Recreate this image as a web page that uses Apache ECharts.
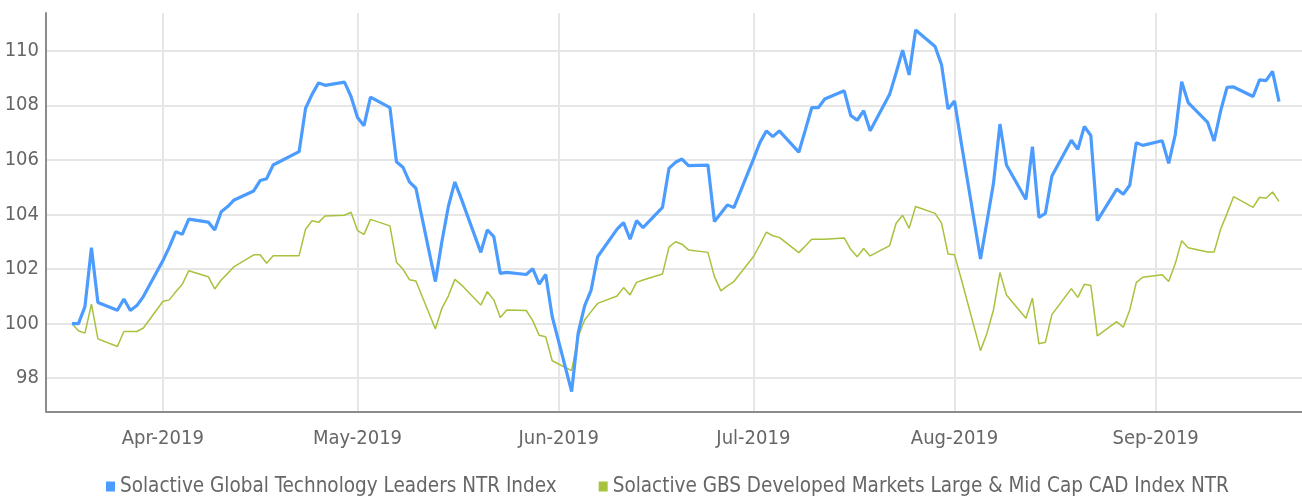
<!DOCTYPE html>
<html>
<head>
<meta charset="utf-8">
<title>Solactive index comparison 2019</title>
<script src="https://cdn.jsdelivr.net/npm/echarts@6/dist/echarts.min.js"></script>
<style>
  html, body { margin: 0; padding: 0; background: #ffffff; }
  #chart { width: 1302px; height: 497px; }
</style>
</head>
<body>
<div id="chart"></div>
<script>
// Trading days, 18 Mar 2019 – 20 Sep 2019
const dates = [
  '2019-03-18','2019-03-19','2019-03-20','2019-03-21','2019-03-22','2019-03-25','2019-03-26','2019-03-27','2019-03-28','2019-03-29',
  '2019-04-01','2019-04-02','2019-04-03','2019-04-04','2019-04-05','2019-04-08','2019-04-09','2019-04-10','2019-04-11','2019-04-12',
  '2019-04-15','2019-04-16','2019-04-17','2019-04-18','2019-04-22','2019-04-23','2019-04-24','2019-04-25','2019-04-26','2019-04-29','2019-04-30',
  '2019-05-01','2019-05-02','2019-05-03','2019-05-06','2019-05-07','2019-05-08','2019-05-09','2019-05-10','2019-05-13','2019-05-14',
  '2019-05-15','2019-05-16','2019-05-17','2019-05-20','2019-05-21','2019-05-22','2019-05-23','2019-05-24','2019-05-27','2019-05-28',
  '2019-05-29','2019-05-30','2019-05-31',
  '2019-06-03','2019-06-04','2019-06-05','2019-06-06','2019-06-07','2019-06-10','2019-06-11','2019-06-12','2019-06-13','2019-06-14',
  '2019-06-17','2019-06-18','2019-06-19','2019-06-20','2019-06-21','2019-06-24','2019-06-25','2019-06-26','2019-06-27','2019-06-28',
  '2019-07-01','2019-07-02','2019-07-03','2019-07-04','2019-07-05','2019-07-08','2019-07-09','2019-07-10','2019-07-11','2019-07-12',
  '2019-07-15','2019-07-16','2019-07-17','2019-07-18','2019-07-19','2019-07-22','2019-07-23','2019-07-24','2019-07-25','2019-07-26',
  '2019-07-29','2019-07-30','2019-07-31',
  '2019-08-01','2019-08-02','2019-08-05','2019-08-06','2019-08-07','2019-08-08','2019-08-09','2019-08-12','2019-08-13','2019-08-14',
  '2019-08-15','2019-08-16','2019-08-19','2019-08-20','2019-08-21','2019-08-22','2019-08-23','2019-08-26','2019-08-27','2019-08-28',
  '2019-08-29','2019-08-30',
  '2019-09-02','2019-09-03','2019-09-04','2019-09-05','2019-09-06','2019-09-09','2019-09-10','2019-09-11','2019-09-12','2019-09-13',
  '2019-09-16','2019-09-17','2019-09-18','2019-09-19','2019-09-20'
];

// Solactive Global Technology Leaders NTR Index (rebased to 100)
const techLeaders = [
  100.00, 100.00, 100.62, 102.78, 100.77, 100.49, 100.90, 100.48, 100.66, 100.99,
  102.30, 102.80, 103.37, 103.27, 103.83, 103.72, 103.43, 104.10, 104.29, 104.53,
  104.86, 105.24, 105.31, 105.81, 106.30, 107.89, 108.40, 108.82, 108.73, 108.85, 108.32,
  107.55, 107.25, 108.30, 107.91, 105.93, 105.73, 105.19, 104.96, 101.54, 103.00,
  104.29, 105.19, 104.57, 102.61, 103.43, 103.19, 101.84, 101.88, 101.80, 102.01,
  101.45, 101.80, 100.26,
  97.51, 99.65, 100.65, 101.23, 102.45, 103.46, 103.70, 103.09, 103.77, 103.52,
  104.26, 105.69, 105.91, 106.03, 105.79, 105.81, 103.74, 104.04, 104.35, 104.25,
  106.02, 106.63, 107.06, 106.85, 107.06, 106.28, 107.09, 107.91, 107.91, 108.23,
  108.53, 107.63, 107.45, 107.80, 107.07, 108.40, 109.19, 110.02, 109.11, 110.76,
  110.15, 109.48, 107.86,
  108.16, 106.67, 102.37, 103.74, 105.14, 107.31, 105.81, 104.55, 106.48, 103.89,
  104.04, 105.41, 106.72, 106.39, 107.22, 106.89, 103.77, 104.93, 104.74, 105.07,
  106.63, 106.53,
  106.70, 105.87, 106.91, 108.86, 108.10, 107.37, 106.69, 107.79, 108.66, 108.67,
  108.32, 108.93, 108.90, 109.24, 108.13
];

// Solactive GBS Developed Markets Large & Mid Cap CAD Index NTR (rebased to 100)
const developedMarkets = [
  100.00, 99.74, 99.65, 100.71, 99.44, 99.16, 99.71, 99.71, 99.71, 99.84,
  100.81, 100.87, 101.17, 101.44, 101.94, 101.72, 101.27, 101.60, 101.84, 102.09,
  102.52, 102.52, 102.21, 102.49, 102.49, 103.46, 103.77, 103.71, 103.94, 103.97, 104.08,
  103.41, 103.27, 103.82, 103.58, 102.25, 102.00, 101.61, 101.56, 99.80, 100.56,
  101.01, 101.62, 101.42, 100.68, 101.17, 100.87, 100.22, 100.50, 100.48, 100.11,
  99.57, 99.52, 98.64,
  98.28, 99.52, 100.13, 100.44, 100.74, 101.01, 101.32, 101.05, 101.51, 101.60,
  101.82, 102.80, 103.00, 102.91, 102.70, 102.61, 101.72, 101.20, 101.38, 101.54,
  102.45, 102.88, 103.35, 103.22, 103.16, 102.60, 102.84, 103.09, 103.09, 103.09,
  103.14, 102.72, 102.45, 102.75, 102.48, 102.86, 103.68, 103.97, 103.49, 104.29,
  104.04, 103.68, 102.55,
  102.52, 101.66, 99.01, 99.65, 100.50, 101.87, 101.05, 100.20, 100.93, 99.26,
  99.32, 100.33, 101.28, 100.96, 101.44, 101.40, 99.55, 100.07, 99.87, 100.50,
  101.50, 101.70,
  101.79, 101.54, 102.19, 103.04, 102.78, 102.62, 102.62, 103.46, 104.04, 104.65,
  104.26, 104.63, 104.59, 104.82, 104.48
];

const seriesNames = [
  'Solactive Global Technology Leaders NTR Index',
  'Solactive GBS Developed Markets Large & Mid Cap CAD Index NTR'
];

// Axis ticks
const monthTicks = ['2019-04-01', '2019-05-01', '2019-06-01', '2019-07-01', '2019-08-01', '2019-09-01'];
const monthNames = ['Jan','Feb','Mar','Apr','May','Jun','Jul','Aug','Sep','Oct','Nov','Dec'];
const valueTicks = [98, 100, 102, 104, 106, 108, 110];

const FONT = "'DejaVu Sans Condensed', 'Liberation Sans Narrow', 'Roboto', sans-serif";
const TEXT_COLOR = '#666666';
const GRID_COLOR = '#e6e6e6';
const AXIS_COLOR = '#8c8c8c';

function toTime(s) {
  const p = s.split('-').map(Number);
  return new Date(p[0], p[1] - 1, p[2]).getTime();
}

const monthTickTimes = monthTicks.map(toTime);

const chart = echarts.init(document.getElementById('chart'), null, { renderer: 'canvas' });

chart.setOption({
  animation: false,
  backgroundColor: '#ffffff',
  grid: { left: 46, right: 0, top: 13, bottom: 85.5, containLabel: false, outerBoundsMode: 'none' },
  legend: {
    left: 101,
    top: 471,
    itemWidth: 9,
    itemHeight: 10,
    itemGap: 42,
    icon: 'rect',
    textStyle: { fontFamily: FONT, fontSize: 20.5, color: TEXT_COLOR },
    data: seriesNames
  },
  // date axis: a plain numeric scale over timestamps, ticked at month starts
  xAxis: {
    type: 'value',
    min: toTime('2019-03-14'),
    max: toTime('2019-09-23') + 13 * 3600 * 1000,
    axisLine: { show: true, lineStyle: { color: AXIS_COLOR, width: 2 } },
    axisTick: { show: false, customValues: monthTickTimes },
    axisLabel: {
      customValues: monthTickTimes,
      fontFamily: FONT,
      fontSize: 20,
      color: TEXT_COLOR,
      margin: 17,
      formatter: function (v) {
        const d = new Date(v);
        return monthNames[d.getMonth()] + '-' + d.getFullYear();
      }
    },
    splitLine: { show: true, lineStyle: { color: GRID_COLOR, width: 2 } }
  },
  yAxis: {
    type: 'value',
    min: 96.78,
    max: 111.38,
    axisLine: { show: true, lineStyle: { color: AXIS_COLOR, width: 2 } },
    axisTick: { show: false, customValues: valueTicks },
    axisLabel: {
      customValues: valueTicks,
      fontFamily: FONT,
      fontSize: 20,
      color: TEXT_COLOR,
      margin: 7
    },
    splitLine: { show: true, lineStyle: { color: GRID_COLOR, width: 2 } }
  },
  series: [
    {
      name: seriesNames[0],
      type: 'line',
      showSymbol: false,
      symbol: 'none',
      color: '#4c9cff',
      lineStyle: { color: '#4c9cff', width: 3.2 },
      data: dates.map((d, i) => [toTime(d), techLeaders[i]]),
      z: 3
    },
    {
      name: seriesNames[1],
      type: 'line',
      showSymbol: false,
      symbol: 'none',
      color: '#a7c23c',
      lineStyle: { color: '#a7c23c', width: 1.5 },
      data: dates.map((d, i) => [toTime(d), developedMarkets[i]]),
      z: 2
    }
  ]
});
</script>
</body>
</html>
